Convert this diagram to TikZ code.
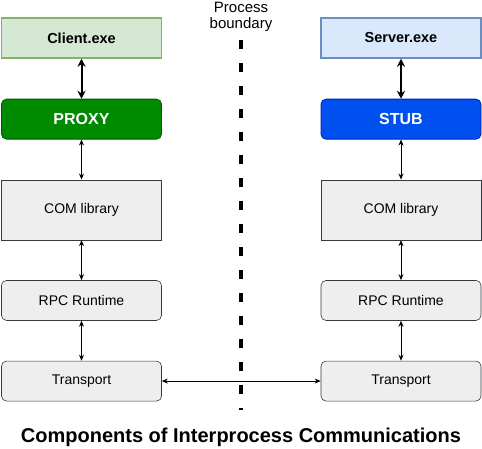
\documentclass[tikz,border=0pt]{standalone}
\usepackage{fontspec}
\setmainfont{Liberation Sans}
\usepackage{xcolor}
\usepackage{tikz}
\usetikzlibrary{positioning, arrows.meta}

\definecolor{clientfill}{HTML}{D5E8D4}
\definecolor{clientdraw}{HTML}{82B366}
\definecolor{serverfill}{HTML}{DAE8FC}
\definecolor{serverdraw}{HTML}{6C8EBF}
\definecolor{proxyfill}{HTML}{008A00}
\definecolor{proxydraw}{HTML}{005700}
\definecolor{stubfill}{HTML}{0050EF}
\definecolor{stubdraw}{HTML}{001DBC}
\definecolor{layerfill}{HTML}{EEEEEE}
\definecolor{layerdraw}{HTML}{36393D}

\begin{document}
\begin{tikzpicture}[
    x=1pt, y=-1pt,
    node distance=40pt,
    exebox/.style={rectangle, line width=1.5pt, minimum width=160pt, minimum height=40pt, font=\fontsize{14.5}{16}\selectfont\bfseries},
    rolebox/.style={rectangle, rounded corners=5pt, line width=0.8pt, minimum width=160pt, minimum height=40pt, text=white, font=\fontsize{16}{18}\selectfont\bfseries},
    layerbox/.style={rectangle, draw=layerdraw, fill=layerfill, line width=0.6pt, minimum width=160pt, minimum height=40pt, font=\fontsize{14}{16}\selectfont},
    arrow/.style={{Stealth[length=6pt,width=5pt]}-{Stealth[length=6pt,width=5pt]}, line width=0.8pt},
    bigarrow/.style={{Stealth[length=8pt,width=8pt]}-{Stealth[length=8pt,width=8pt]}, line width=2pt}
]
\useasboundingbox (0,0) rectangle (482,449);

% Client side
\node[exebox, draw=clientdraw, fill=clientfill] (client) at (81.5,38) {Client.exe};
\node[rolebox, draw=proxydraw, fill=proxyfill, below=of client] (proxy) {PROXY};
\node[layerbox, minimum height=60pt, below=of proxy] (comc) {COM library};
\node[layerbox, rounded corners=5pt, below=of comc] (rpcc) {RPC Runtime};
\node[layerbox, rounded corners=5pt, below=of rpcc] (transc) {Transport};

% Server side
\node[exebox, draw=serverdraw, fill=serverfill] (server) at (401,38) {Server.exe};
\node[rolebox, draw=stubdraw, fill=stubfill, below=of server] (stub) {STUB};
\node[layerbox, minimum height=60pt, below=of stub] (coms) {COM library};
\node[layerbox, rounded corners=5pt, below=of coms] (rpcs) {RPC Runtime};
\node[layerbox, rounded corners=5pt, below=of rpcs] (transs) {Transport};

% Process boundary
\node[font=\fontsize{15}{16}\selectfont, align=center] (boundary) at (241,17) {Process\\boundary};
\coordinate (btop) at (241,40);
\coordinate (bbot) at (241,410);
\draw[line width=4pt, dash pattern=on 9pt off 14pt] (btop) -- (bbot);

% Arrows
\draw[bigarrow] (client) -- (proxy);
\draw[arrow] (proxy) -- (comc);
\draw[arrow] (comc) -- (rpcc);
\draw[arrow] (rpcc) -- (transc);
\draw[bigarrow] (server) -- (stub);
\draw[arrow] (stub) -- (coms);
\draw[arrow] (coms) -- (rpcs);
\draw[arrow] (rpcs) -- (transs);
\draw[arrow] (transc) -- (transs);

% Title
\node[font=\fontsize{20}{22}\selectfont\bfseries] (title) at (241,437) {Components of Interprocess Communications};

\end{tikzpicture}
\end{document}
